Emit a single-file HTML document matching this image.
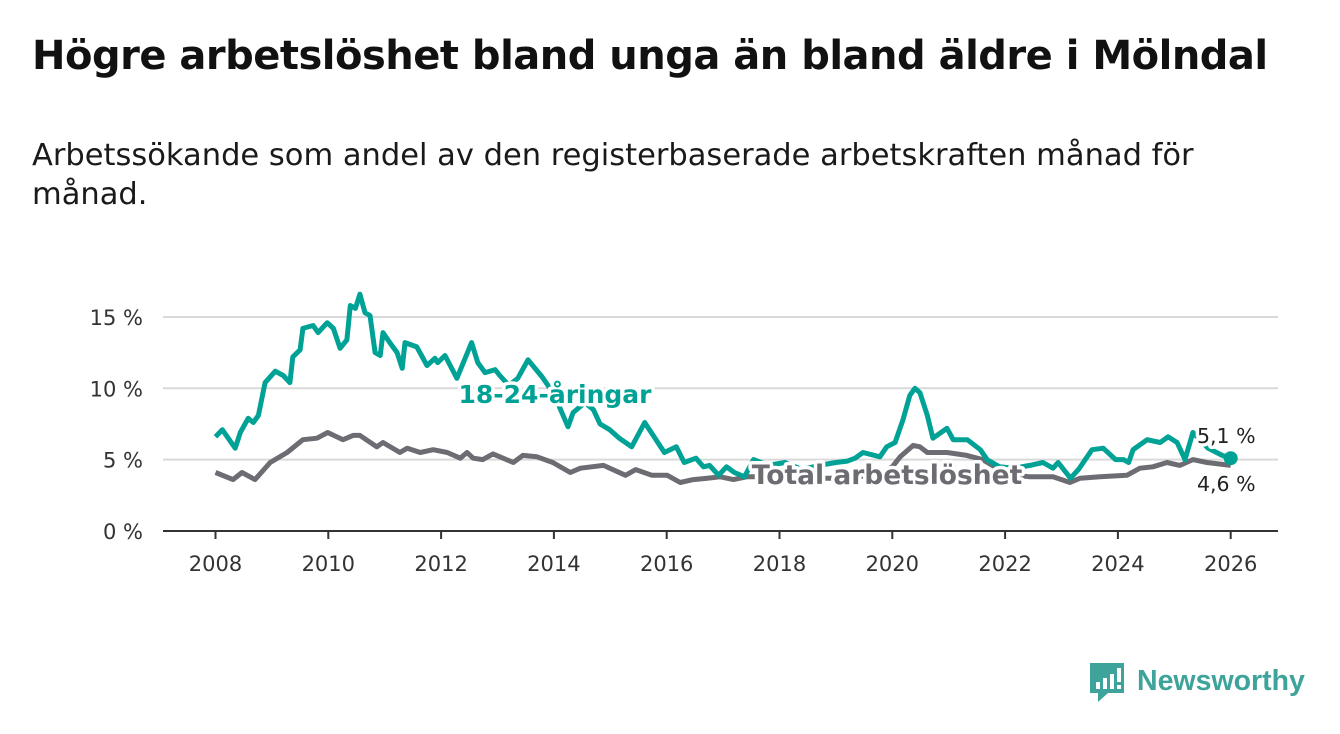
<!DOCTYPE html>
<html><head><meta charset="utf-8">
<style>
body{margin:0;background:#fff;width:1340px;height:734px;overflow:hidden;font-family:"Liberation Sans","DejaVu Sans",sans-serif;}
h1{position:absolute;left:32px;top:33px;margin:0;font-size:40px;font-weight:bold;color:#111;font-family:"DejaVu Sans","Liberation Sans",sans-serif;letter-spacing:-0.5px;white-space:nowrap}
p{position:absolute;left:32px;top:136px;margin:0;font-size:30.5px;line-height:39px;color:#1a1a1a;width:1200px;font-family:"DejaVu Sans","Liberation Sans",sans-serif;font-weight:normal}
svg{position:absolute;left:0;top:0}
</style></head><body>
<h1>Högre arbetslöshet bland unga än bland äldre i Mölndal</h1>
<p>Arbetssökande som andel av den registerbaserade arbetskraften månad för månad.</p>
<svg id="chart" width="1340" height="734"></svg>
<script>
const yTicks=[0,5,10,15];
const xTicks=[2008,2010,2012,2014,2016,2018,2020,2022,2024,2026];
const youthYears=[2008.00,2008.12,2008.35,2008.44,2008.58,2008.67,2008.76,2008.88,2009.06,2009.20,2009.32,2009.37,2009.50,2009.55,2009.73,2009.82,2009.98,2010.09,2010.21,2010.33,2010.39,2010.48,2010.56,2010.65,2010.74,2010.83,2010.92,2010.97,2011.09,2011.22,2011.31,2011.36,2011.57,2011.75,2011.89,2011.94,2012.07,2012.28,2012.54,2012.65,2012.78,2012.96,2013.04,2013.20,2013.36,2013.54,2013.79,2014.00,2014.25,2014.34,2014.55,2014.70,2014.82,2014.99,2015.16,2015.38,2015.61,2015.96,2016.17,2016.31,2016.52,2016.65,2016.76,2016.92,2017.06,2017.20,2017.38,2017.54,2017.80,2018.10,2018.40,2018.70,2019.00,2019.20,2019.34,2019.48,2019.78,2019.90,2020.05,2020.19,2020.31,2020.40,2020.49,2020.62,2020.72,2020.97,2021.08,2021.33,2021.56,2021.68,2021.90,2022.15,2022.44,2022.67,2022.85,2022.94,2023.16,2023.30,2023.54,2023.74,2023.96,2024.10,2024.19,2024.27,2024.52,2024.75,2024.89,2025.05,2025.19,2025.33,2025.60,2025.85,2026.00];
const youthValues=[6.6,7.1,5.8,6.9,7.9,7.6,8.1,10.4,11.2,10.9,10.4,12.2,12.7,14.2,14.4,13.9,14.6,14.2,12.8,13.4,15.8,15.6,16.6,15.3,15.1,12.5,12.3,13.9,13.2,12.5,11.4,13.2,12.9,11.6,12.1,11.8,12.3,10.7,13.2,11.8,11.1,11.3,10.9,10.2,10.7,12.0,10.8,9.6,7.3,8.3,9.0,8.5,7.5,7.1,6.5,5.9,7.6,5.5,5.9,4.8,5.1,4.5,4.6,3.9,4.5,4.1,3.8,5.0,4.6,4.8,4.3,4.6,4.8,4.9,5.1,5.5,5.2,5.9,6.2,7.8,9.5,10.0,9.7,8.1,6.5,7.2,6.4,6.4,5.7,5.0,4.5,4.4,4.6,4.8,4.4,4.8,3.7,4.3,5.7,5.8,5.0,5.0,4.8,5.7,6.4,6.2,6.6,6.2,5.0,6.9,5.8,5.3,5.1];
const totalYears=[2008.00,2008.31,2008.47,2008.70,2008.97,2009.27,2009.55,2009.80,2009.99,2010.26,2010.44,2010.56,2010.86,2010.97,2011.27,2011.40,2011.63,2011.86,2012.11,2012.34,2012.46,2012.57,2012.74,2012.92,2013.28,2013.45,2013.70,2013.98,2014.29,2014.47,2014.88,2015.27,2015.45,2015.74,2016.01,2016.24,2016.47,2016.72,2016.95,2017.18,2017.42,2017.80,2018.20,2018.60,2019.00,2019.40,2019.80,2020.00,2020.14,2020.37,2020.49,2020.62,2020.97,2021.32,2021.60,2021.90,2022.20,2022.44,2022.85,2023.15,2023.33,2023.68,2024.16,2024.39,2024.62,2024.87,2025.10,2025.33,2025.58,2026.00];
const totalValues=[4.1,3.6,4.1,3.6,4.8,5.5,6.4,6.5,6.9,6.4,6.7,6.7,5.9,6.2,5.5,5.8,5.5,5.7,5.5,5.1,5.5,5.1,5.0,5.4,4.8,5.3,5.2,4.8,4.1,4.4,4.6,3.9,4.3,3.9,3.9,3.4,3.6,3.7,3.8,3.6,3.8,3.8,3.7,3.7,3.7,3.8,4.0,4.5,5.2,6.0,5.9,5.5,5.5,5.3,5.0,4.3,3.9,3.8,3.8,3.4,3.7,3.8,3.9,4.4,4.5,4.8,4.6,5.0,4.8,4.6];

const NS='http://www.w3.org/2000/svg';
const svg=document.getElementById('chart');
const xS=y=>215.5+(y-2008)*56.4;
const yS=v=>531-v*14.27;
function mk(tag,attrs,parent){const e=document.createElementNS(NS,tag);for(const k in attrs)e.setAttribute(k,attrs[k]);(parent||svg).appendChild(e);return e;}

yTicks.forEach(t=>{
  if(t>0){const g=mk('line',{x1:163,x2:1278,y1:yS(t),y2:yS(t),stroke:'#d9d9d9','stroke-width':2});
  
  }
  const l=mk('text',{x:143,y:yS(t)+8,'text-anchor':'end','font-size':21,fill:'#333','font-family':'DejaVu Sans, Liberation Sans, sans-serif'});
  l.textContent=t+' %';
  
  
});
const ax=mk('line',{x1:163,x2:1278,y1:531,y2:531,stroke:'#333','stroke-width':2});


xTicks.forEach(t=>{
  const tk=mk('line',{x1:xS(t),x2:xS(t),y1:531,y2:539,stroke:'#333','stroke-width':2});
  
  
  const l=mk('text',{x:xS(t),y:571,'text-anchor':'middle','font-size':21,fill:'#333','font-family':'DejaVu Sans, Liberation Sans, sans-serif'});
  l.textContent=t;
  
  
});
function line(xs,vs,color,name){
  const d=xs.map((x,i)=>(i?'L':'M')+xS(x).toFixed(1)+','+yS(vs[i]).toFixed(1)).join('');
  const p=mk('path',{d:d,fill:'none',stroke:color,'stroke-width':5,'stroke-linejoin':'round'});
  
  
}
line(totalYears,totalValues,'#6d6c73','total-line');
line(youthYears,youthValues,'#00a296','youth-line');
const dot=mk('circle',{cx:xS(youthYears[youthYears.length-1]),cy:yS(youthValues[youthValues.length-1]),r:7,fill:'#00a296'});


function label(txt,x,y,size,color,bold,name,anchor){
  const t=mk('text',{x:x,y:y,'font-size':size,fill:color,'font-weight':bold?'bold':'normal','text-anchor':anchor||'start',stroke:'#fff','stroke-width':7,'paint-order':'stroke','stroke-linejoin':'round','font-family':'DejaVu Sans, Liberation Sans, sans-serif'});
  t.textContent=txt;
  
  
}
label('18-24-åringar',555,403,25,'#00a296',true,'youth-series-label','middle');
label('Total arbetslöshet',887,484,26.5,'#6d6c73',true,'total-series-label','middle');
label('5,1 %',1197,443,20.5,'#222',false,'youth-end-value');
label('4,6 %',1197,491,20.5,'#222',false,'total-end-value');
</script>
<svg width="1340" height="734" style="pointer-events:none">
  <path d="M1090 663h34v30h-16l-10 9v-9h-8z" fill="#3ea39a"/>
  <rect x="1096" y="682" width="4" height="7" fill="#fff"/>
  <rect x="1103" y="678" width="4" height="11" fill="#fff"/>
  <rect x="1110" y="674" width="4" height="15" fill="#fff"/>
  <rect x="1117" y="668" width="4" height="14" fill="#fff"/>
  <rect x="1117" y="685" width="4" height="4" fill="#fff"/>
  <text x="1137" y="690" font-size="28.5" font-weight="bold" fill="#3ea39a" font-family="Liberation Sans, sans-serif">Newsworthy</text>
</svg>
</body></html>
